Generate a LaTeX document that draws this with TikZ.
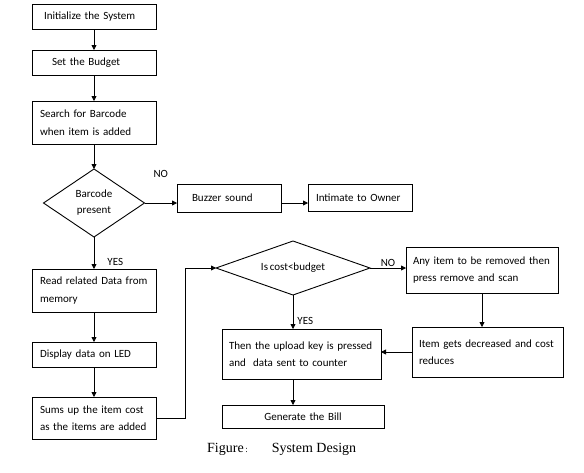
\documentclass[tikz,border=0pt]{standalone}
\usepackage{fontspec}
\setmainfont[WordSpace=0.7]{Carlito}
\newfontfamily\capfont{Liberation Serif}
\usetikzlibrary{shapes.geometric,arrows.meta}
\begin{document}
\begin{tikzpicture}[x=1pt,y=-1pt,
  box/.style={draw, line width=0.9pt, anchor=north west, align=left, inner ysep=1pt, outer sep=0pt, font=\fontsize{11}{17.5}\selectfont},
  decision/.style={draw, diamond, line width=0.9pt, inner sep=0pt, outer sep=0pt, align=center, font=\fontsize{11}{16}\selectfont},
  arrow/.style={line width=0.8pt, -{Triangle[length=5pt,width=5pt]}},
  tag/.style={inner sep=1pt, font=\fontsize{11}{13}\selectfont}]
\useasboundingbox (0,0) rectangle (584,472);
% left column
\node[box, minimum height=25, inner xsep=12, text width=100] (init) at (32,4) {Initialize the System};
\node[box, minimum height=25, inner xsep=20, text width=84] (budget) at (32,50) {Set the Budget};
\node[box, minimum height=43, inner xsep=8, text width=108] (search) at (32,101) {Search for Barcode\\when item is added};
\node[decision, aspect=1.5, minimum width=101, minimum height=68] (barcode) at (94,203) {Barcode\\present};
\node[box, minimum height=43, inner xsep=8, text width=108] (read) at (32,269) {Read related Data from\\memory};
\node[box, minimum height=25, inner xsep=8, text width=108] (display) at (32,342) {Display data on LED};
\node[box, minimum height=42, inner xsep=8, text width=108] (sums) at (32,397) {Sums up the item cost\\as the items are added};
% top branch
\node[box, minimum height=28, inner xsep=15, text width=74] (buzzer) at (177,184) {Buzzer sound};
\node[box, minimum height=27, inner xsep=8, text width=88] (intimate) at (308,184) {Intimate to Owner};
% budget check
\node[decision, aspect=2.85, minimum width=154, minimum height=54] (cost) at (293,268) {Is cost<budget};
\node[box, minimum height=46, inner xsep=7, text width=138] (remove) at (406,247) {Any item to be removed then\\press remove and scan};
\node[box, minimum height=50, inner xsep=7, text width=137] (reduce) at (412,327) {Item gets decreased and cost\\reduces};
\node[box, minimum height=50, inner xsep=7, text width=145] (upload) at (222,329) {Then the upload key is pressed\\and\ \ data sent to counter};
\node[box, minimum height=23, inner xsep=0, text width=162, align=center] (bill) at (222,405) {Generate the Bill};
\node[anchor=base west, inner sep=0pt, font=\capfont\fontsize{14}{16}\selectfont] (caption) at (207,452) {Figure{\fontsize{9}{9}\selectfont\,:}\hspace{24pt}System Design};
% connectors
\path[draw,arrow] (init) -- (budget);
\path[draw,arrow] (budget) -- (search);
\path[draw,arrow] (search) -- (barcode);
\path[draw,arrow] (barcode) -- node[tag, pos=0.78, right=12pt] {YES} (read);
\path[draw,arrow] (barcode.east) -- node[tag, midway, above=24pt] {NO} (barcode.east -| buzzer.west);
\path[draw,arrow] (barcode.east -| buzzer.east) -- (barcode.east -| intimate.west);
\path[draw,arrow] (read) -- (display);
\path[draw,arrow] (display) -- (sums);
\path[draw,arrow] (sums.east) -- ++(29,0) |- (cost.west);
\path[draw,arrow] (cost.east) -- node[tag, midway, above=0pt] {NO} (cost.east -| remove.west);
\path[draw,arrow] (remove.south) -- (remove.south |- reduce.north);
\path[draw,arrow] (reduce.west) -- (reduce.west -| upload.east);
\path[draw,arrow] (cost.south) -- node[tag, pos=0.76, right=3pt] {YES} (cost.south |- upload.north);
\path[draw,arrow] (upload.south -| cost.south) -- (bill.north -| cost.south);
\end{tikzpicture}
\end{document}
